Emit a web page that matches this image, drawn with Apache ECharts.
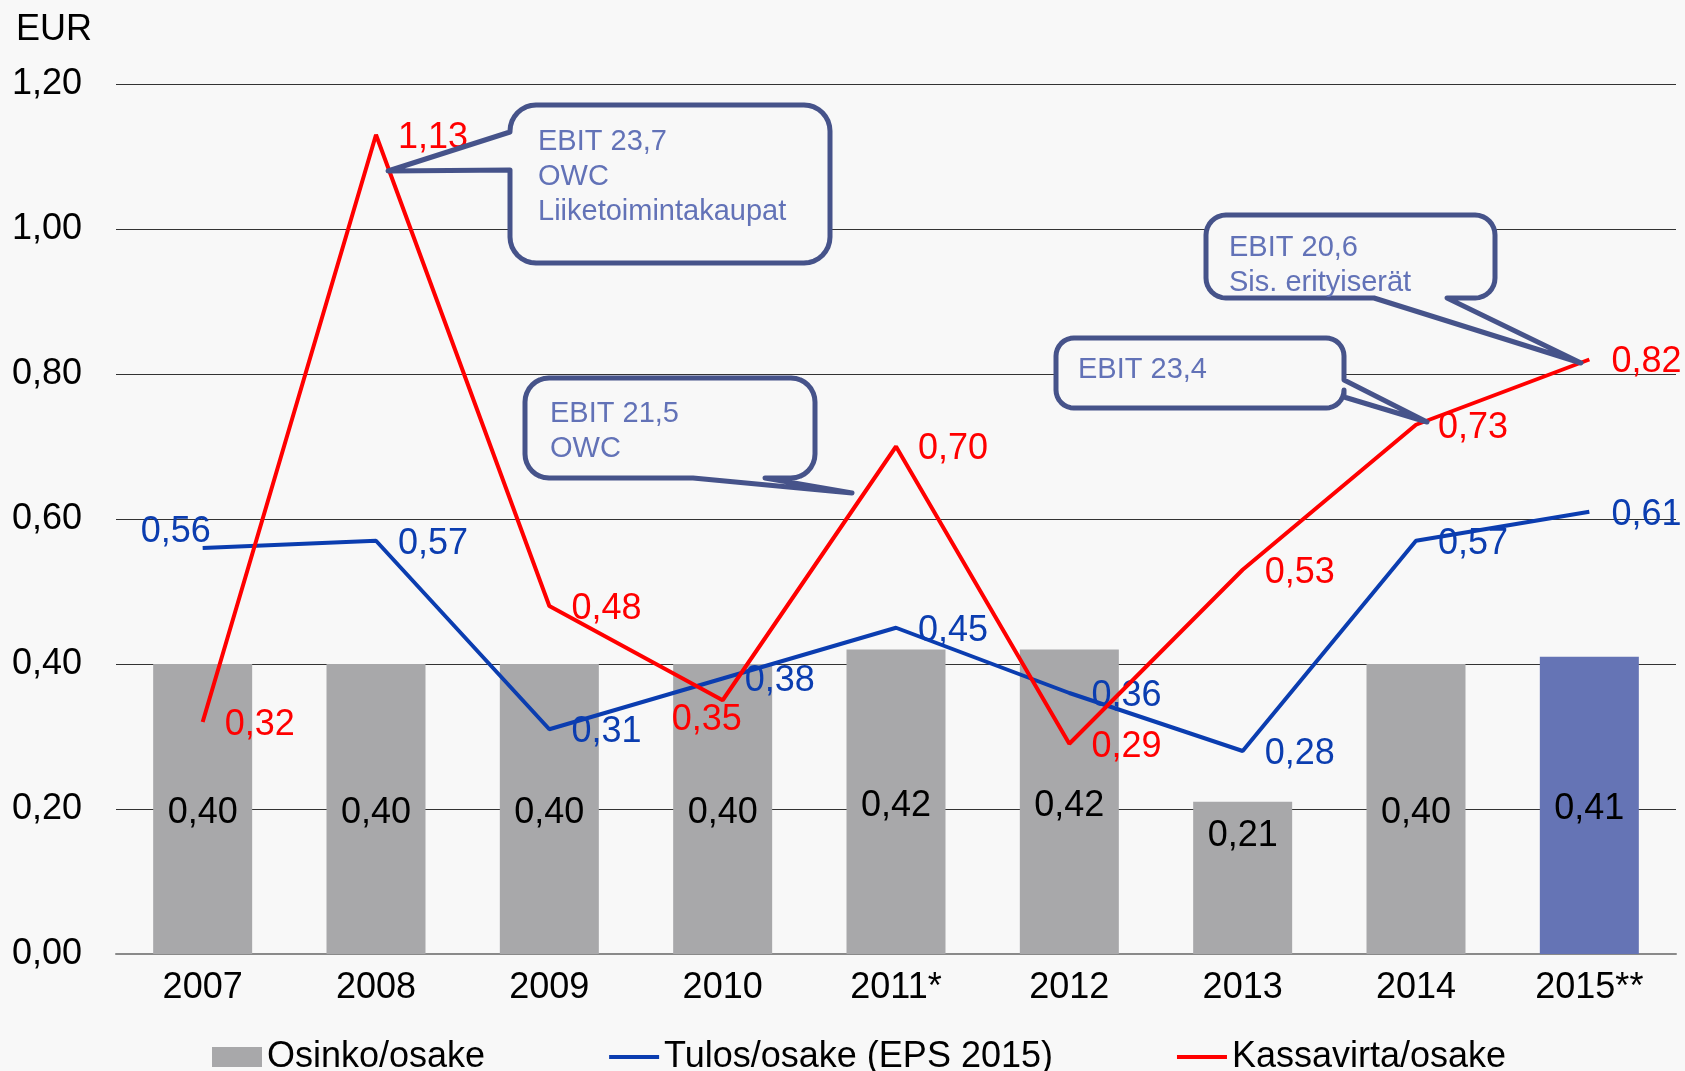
<!DOCTYPE html>
<html>
<head>
<meta charset="utf-8">
<script src="https://cdn.jsdelivr.net/npm/echarts@6/dist/echarts.min.js"></script>
<style>
  html, body { margin: 0; padding: 0; background: #f8f8f8; }
  #chart { width: 1685px; height: 1071px; }
</style>
</head>
<body>
<div id="chart"></div>
<script>
const years = ['2007', '2008', '2009', '2010', '2011*', '2012', '2013', '2014', '2015**']
const dividend = [0.40, 0.40, 0.40, 0.40, 0.42, 0.42, 0.21, 0.40, 0.41]
const eps = [0.56, 0.57, 0.31, 0.38, 0.45, 0.36, 0.28, 0.57, 0.61]
const cashflow = [0.32, 1.13, 0.48, 0.35, 0.70, 0.29, 0.53, 0.73, 0.82]
const seriesNames = ['Osinko/osake', 'Tulos/osake (EPS 2015)', 'Kassavirta/osake']
const yTicks = [0, 0.2, 0.4, 0.6, 0.8, 1.0, 1.2]
const notes = [
  ['EBIT 23,7', 'OWC', 'Liiketoimintakaupat'],
  ['EBIT 21,5', 'OWC'],
  ['EBIT 23,4'],
  ['EBIT 20,6', 'Sis. erityiserät']
]

const FONT = '"Liberation Sans", Arial, sans-serif'
const fmt = v => v.toFixed(2).replace('.', ',')

const chart = echarts.init(document.getElementById('chart'))

// speech-bubble outline as polygon points
const arcPts = (cx, cy, r, a0, a1) => {
  const pts = []
  for (let i = 0; i <= 8; i++) {
    const t = a0 + (a1 - a0) * i / 8
    pts.push([cx + r * Math.cos(t), cy + r * Math.sin(t)])
  }
  return pts
}
const bubble = ({ x, y, w, h, r, side, a, c, tip }) => {
  const x2 = x + w, y2 = y + h, P = Math.PI
  let pts = []
  pts = pts.concat(arcPts(x2 - r, y + r, r, -P / 2, 0))
  if (side === 'right') pts.push([x2, a], tip, [x2, c])
  pts = pts.concat(arcPts(x2 - r, y2 - r, r, 0, P / 2))
  if (side === 'bottom') pts.push([a, y2], tip, [c, y2])
  pts = pts.concat(arcPts(x + r, y2 - r, r, P / 2, P))
  if (side === 'left') pts.push([x, a], tip, [x, c])
  pts = pts.concat(arcPts(x + r, y + r, r, P, P * 1.5))
  return pts
}

const noteLayout = [
  { box: { x: 510, y: 105, w: 320, h: 158, r: 26, side: 'left', a: 170, c: 132, tip: [388, 171] }, tx: 538, ty: 124 },
  { box: { x: 525, y: 378, w: 290, h: 100, r: 24, side: 'bottom', a: 765, c: 693, tip: [852, 493] }, tx: 550, ty: 396 },
  { box: { x: 1056, y: 338, w: 288, h: 70, r: 18, side: 'right', a: 380, c: 397, tip: [1427, 422] }, tx: 1078, ty: 352 },
  { box: { x: 1206, y: 215, w: 289, h: 83, r: 20, side: 'bottom', a: 1447, c: 1374, tip: [1581, 363] }, tx: 1229, ty: 230 }
]

const graphics = []
notes.forEach((lines, i) => {
  const L = noteLayout[i]
  graphics.push({
    type: 'polygon',
    shape: { points: bubble(L.box) },
    style: { fill: '#f8f8f8', stroke: '#46538a', lineWidth: 5, lineJoin: 'round' },
    z: 100
  })
  graphics.push({
    type: 'text',
    x: L.tx,
    y: L.ty,
    style: {
      text: lines.join('\n'),
      fontSize: 29,
      fontFamily: FONT,
      fill: '#6272b7',
      lineHeight: 35,
      verticalAlign: 'top'
    },
    z: 101
  })
})

const labelBase = { show: true, position: 'right', distance: 22, offset: [0, 3], fontSize: 36, fontFamily: FONT, formatter: p => fmt(p.value) }
const lineIcon = 'path://M0,0 L50,0 L50,4 L0,4 Z'

const option = {
  backgroundColor: '#f8f8f8',
  animation: false,
  title: {
    text: 'EUR',
    left: 11,
    top: 7,
    textStyle: { fontSize: 36, fontWeight: 'normal', color: '#000', fontFamily: FONT }
  },
  legend: {
    data: [
      { name: seriesNames[0], icon: 'rect' },
      { name: seriesNames[1], icon: lineIcon },
      { name: seriesNames[2], icon: lineIcon }
    ],
    left: 207,
    top: 1034,
    itemWidth: 50,
    itemHeight: 20,
    itemGap: 124,
    symbolKeepAspect: true,
    textStyle: { fontSize: 36, color: '#000', fontFamily: FONT }
  },
  grid: { left: 116, right: 9, top: 84, bottom: 117 },
  xAxis: {
    type: 'category',
    data: years,
    axisTick: { show: false },
    axisLine: { lineStyle: { color: '#8a8a8a', width: 2 } },
    axisLabel: { color: '#000', fontSize: 36, fontFamily: FONT, margin: 16 }
  },
  yAxis: {
    type: 'value',
    min: yTicks[0],
    max: yTicks[yTicks.length - 1],
    interval: 0.2,
    axisLine: { show: false },
    axisTick: { show: false },
    axisLabel: {
      color: '#000',
      fontSize: 36,
      fontFamily: FONT,
      align: 'left',
      margin: 104,
      formatter: v => fmt(v)
    },
    splitLine: { lineStyle: { color: '#333', width: 1 } }
  },
  series: [
    {
      name: seriesNames[0],
      type: 'bar',
      barWidth: 99,
      itemStyle: { color: '#a8a8aa' },
      label: { show: true, position: 'inside', offset: [0, 4], color: '#000', fontSize: 36, fontFamily: FONT, formatter: p => fmt(p.value) },
      data: dividend.map((v, i) => {
        const item = { value: v }
        if (i === dividend.length - 1) item.itemStyle = { color: '#6574b5' }
        if (v < 0.3) item.label = { position: 'insideTop', distance: 16, offset: [0, 0] }
        return item
      }),
      z: 2
    },
    {
      name: seriesNames[1],
      type: 'line',
      symbol: 'circle',
      symbolSize: 0.1,
      lineStyle: { color: '#0b3db0', width: 4 },
      itemStyle: { color: '#0b3db0' },
      label: Object.assign({}, labelBase, { color: '#0b3db0' }),
      data: eps.map((v, i) => i === 0 ? { value: v, label: { position: 'top', distance: 0, offset: [-27, 2] } } : v),
      z: 3
    },
    {
      name: seriesNames[2],
      type: 'line',
      symbol: 'circle',
      symbolSize: 0.1,
      lineStyle: { color: '#ff0000', width: 4 },
      itemStyle: { color: '#ff0000' },
      label: Object.assign({}, labelBase, { color: '#ff0000' }),
      data: cashflow.map((v, i) => i === 3 ? { value: v, label: { position: 'bottom', distance: 0, offset: [-16, 2] } } : v),
      z: 4
    }
  ],
  graphic: { elements: graphics }
}

chart.setOption(option)
window.addEventListener('resize', () => chart.resize())
</script>
</body>
</html>
